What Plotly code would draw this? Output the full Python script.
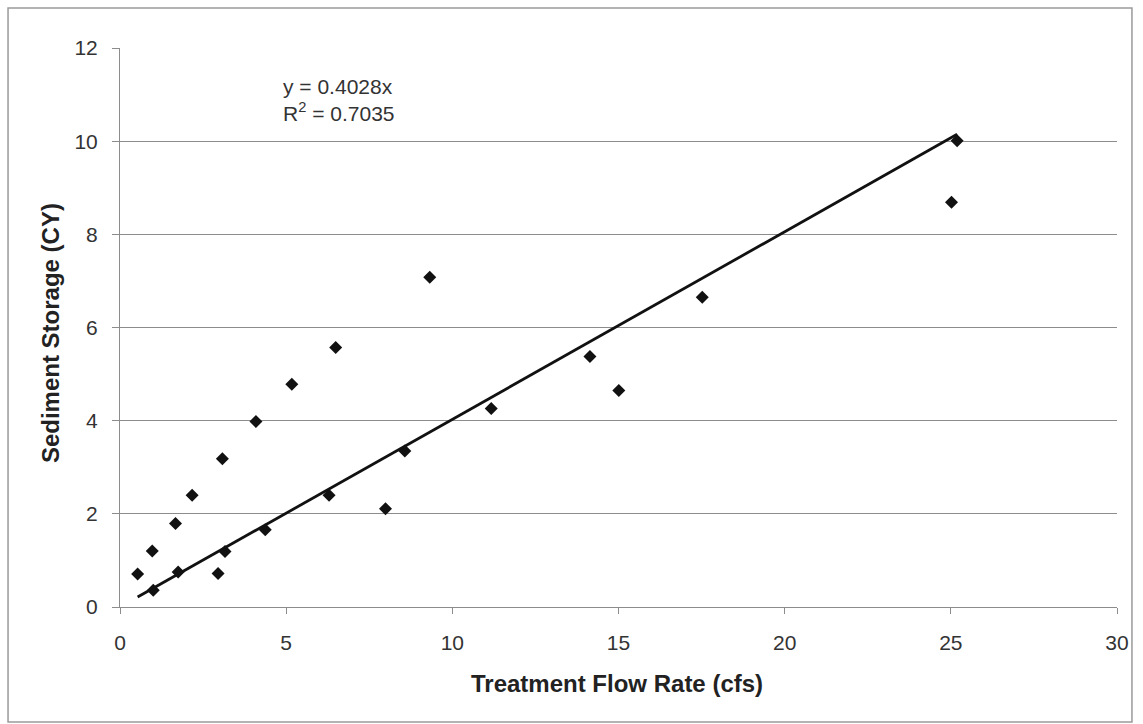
import plotly.graph_objects as go

# Measured treatment flow rate (cfs) and sediment storage (CY)
flow_cfs = [0.53, 0.97, 1.00, 1.67, 1.75, 2.17, 2.95, 3.08, 3.16, 4.09, 4.37,
            5.17, 6.29, 6.49, 7.99, 8.57, 9.32, 11.17, 14.14, 15.01, 17.52,
            25.02, 25.19]
storage_cy = [0.71, 1.20, 0.36, 1.79, 0.75, 2.40, 0.72, 3.18, 1.19, 3.98, 1.66,
              4.78, 2.40, 5.57, 2.11, 3.35, 7.08, 4.26, 5.38, 4.65, 6.65,
              8.69, 10.01]

# Linear fit through the origin
slope = 0.4028
r_squared = 0.7035

x_ticks = [0, 5, 10, 15, 20, 25, 30]
y_ticks = [0, 2, 4, 6, 8, 10, 12]

FONT = "Liberation Sans, Arial, sans-serif"
GRID = "#8c8c8c"

fit_x = [min(flow_cfs), max(flow_cfs)]
fit_y = [slope * v for v in fit_x]

fig = go.Figure()
fig.add_trace(go.Scatter(
    x=fit_x, y=fit_y, mode="lines",
    line=dict(color="#111111", width=2.8),
    showlegend=False, hoverinfo="skip",
))
fig.add_trace(go.Scatter(
    x=flow_cfs, y=storage_cy, mode="markers",
    marker=dict(symbol="diamond", size=10, color="#111111", line=dict(width=0)),
    showlegend=False,
))

fig.update_layout(
    width=1143, height=724,
    margin=dict(l=120, r=26, t=48, b=117),
    paper_bgcolor="white", plot_bgcolor="white",
    font=dict(family=FONT, size=21, color="#333333"),
    xaxis=dict(
        range=[0, 30], tickvals=x_ticks, ticktext=[str(v) for v in x_ticks],
        showgrid=False, zeroline=False,
        showline=True, linecolor=GRID, linewidth=1,
        ticks="outside", ticklen=6, tickcolor=GRID, tickwidth=1,
        ticklabelstandoff=11,
        tickfont=dict(family=FONT, size=21, color="#333333"),
    ),
    yaxis=dict(
        range=[0, 12], tickvals=y_ticks, ticktext=[str(v) for v in y_ticks],
        showgrid=True, gridcolor=GRID, gridwidth=1, zeroline=False,
        showline=True, linecolor=GRID, linewidth=1,
        ticks="outside", ticklen=7, tickcolor=GRID, tickwidth=1,
        ticklabelstandoff=10,
        tickfont=dict(family=FONT, size=21, color="#333333"),
    ),
    annotations=[
        dict(text="Treatment Flow Rate (cfs)", xref="paper", yref="paper",
             x=0.4985, y=-0.136, xanchor="center", yanchor="middle",
             showarrow=False,
             font=dict(family=FONT, size=24, color="#222222", weight="bold")),
        dict(text="Sediment Storage (CY)", xref="paper", yref="paper",
             x=-0.0702, y=0.49, xanchor="center", yanchor="middle",
             textangle=-90, showarrow=False,
             font=dict(family=FONT, size=24, color="#222222", weight="bold")),
        dict(text=f"y = {slope:.4f}x", x=4.84, y=11.18,
             xanchor="left", yanchor="middle", showarrow=False,
             font=dict(family=FONT, size=21, color="#333333")),
        dict(text=f"R<sup>2</sup> = {r_squared:.4f}", x=4.84, y=10.62,
             xanchor="left", yanchor="middle", showarrow=False,
             font=dict(family=FONT, size=21, color="#333333")),
    ],
    shapes=[
        dict(type="rect", xref="paper", yref="paper",
             x0=-0.1123, x1=1.015, y0=-0.2057, y1=1.0716,
             line=dict(color="#9a9a9a", width=1.5), fillcolor="rgba(0,0,0,0)",
             layer="below"),
    ],
)

fig.write_html("out.html")
